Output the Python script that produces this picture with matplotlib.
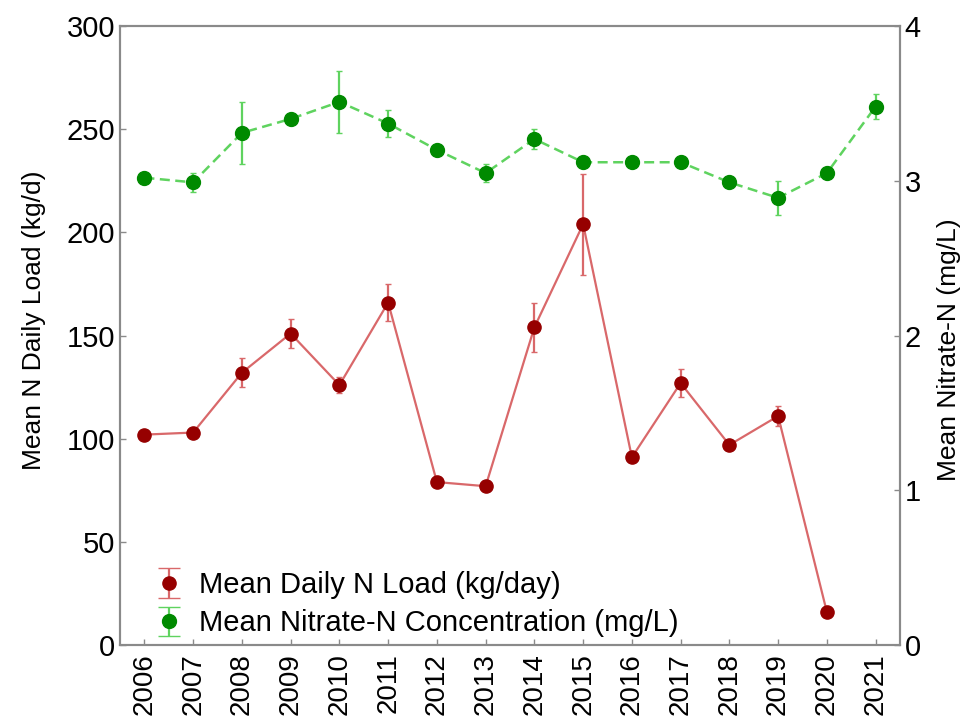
import numpy as np
import matplotlib.pyplot as plt

plt.rcParams['font.family'] = ['Liberation Sans', 'DejaVu Sans']

years = list(range(2006, 2022))

# mean daily N load (kg/day), 2006-2020
load = [102, 103, 132, 151, 126, 166, 79, 77, 154, 204, 91, 127, 97, 111, 16]
load_err = [1, 1.5, 7, 7, 4, 9, 0, 0, 12, 24.5, 0, 7, 0, 5, 0]

# mean nitrate-N concentration (mg/L), 2006-2021
nitrate = [3.02, 2.99, 3.31, 3.40, 3.51, 3.37, 3.20, 3.05, 3.27, 3.12, 3.12, 3.12, 2.99, 2.89, 3.05, 3.48]
nitrate_err = [0.01, 0.06, 0.2, 0.03, 0.2, 0.09, 0.01, 0.06, 0.065, 0.01, 0.0, 0.0, 0.01, 0.11, 0.0, 0.08]

RED_DARK = '#960000'
RED_LIGHT = '#d9686a'
GREEN_DARK = '#008a00'
GREEN_LIGHT = '#5fd35f'
SPINE = '#8a8a8a'

fig = plt.figure(figsize=(9.79, 7.24), dpi=100)
ax = fig.add_axes([0.1226, 0.109, 0.7967, 0.855])
ax2 = ax.twinx()

ax.errorbar(years[:len(load)], load, yerr=load_err, color=RED_LIGHT, lw=1.6,
            marker='o', ms=9.5, mfc=RED_DARK, mec=RED_DARK,
            ecolor=RED_LIGHT, elinewidth=1.6, capsize=2)
ax2.errorbar(years, nitrate, yerr=nitrate_err, color=GREEN_LIGHT, lw=1.8, ls=(0, (4, 2.2)),
             marker='o', ms=10, mfc=GREEN_DARK, mec=GREEN_DARK,
             ecolor=GREEN_LIGHT, elinewidth=1.6, capsize=2)

# legend keys: marker with a capped vertical bar, no connecting line
h1 = ax.errorbar([np.nan], [np.nan], yerr=[1], ls='none', marker='o', ms=9.5,
                 mfc=RED_DARK, mec=RED_DARK, ecolor=RED_LIGHT, elinewidth=1.6,
                 capsize=8, label='Mean Daily N Load (kg/day)')
h2 = ax.errorbar([np.nan], [np.nan], yerr=[1], ls='none', marker='o', ms=10,
                 mfc=GREEN_DARK, mec=GREEN_DARK, ecolor=GREEN_LIGHT, elinewidth=1.6,
                 capsize=8, label='Mean Nitrate-N Concentration (mg/L)')

ax.set_xlim(2005.5, 2021.5)
ax.set_ylim(0, 300)
ax2.set_ylim(0, 4)
ax.set_xticks(years)
ax.set_xticklabels([str(y) for y in years], rotation=90)
ax.set_yticks(range(0, 301, 50))
ax2.set_yticks(range(0, 5))

ax.set_ylabel('Mean N Daily Load (kg/d)', fontsize=19)
ax2.set_ylabel('Mean Nitrate-N (mg/L)', fontsize=19)
ax.yaxis.set_label_coords(-0.095, 0.524)
ax2.yaxis.set_label_coords(1.047, 0.477)

for a in (ax, ax2):
    for s in a.spines.values():
        s.set_color(SPINE)
        s.set_linewidth(1.5)
    a.tick_params(direction='in', length=4, width=1, color=SPINE, labelsize=21)
ax.tick_params(axis='x', top=False, pad=6, labelsize=20)
ax.tick_params(axis='y', right=False)

ax.legend(handles=[h1, h2], loc='lower left', frameon=False, fontsize=21,
          handlelength=1.0, handletextpad=0.5, labelspacing=0.35,
          bbox_to_anchor=(0.011, -0.03))

fig.savefig('out.png', dpi=100)
